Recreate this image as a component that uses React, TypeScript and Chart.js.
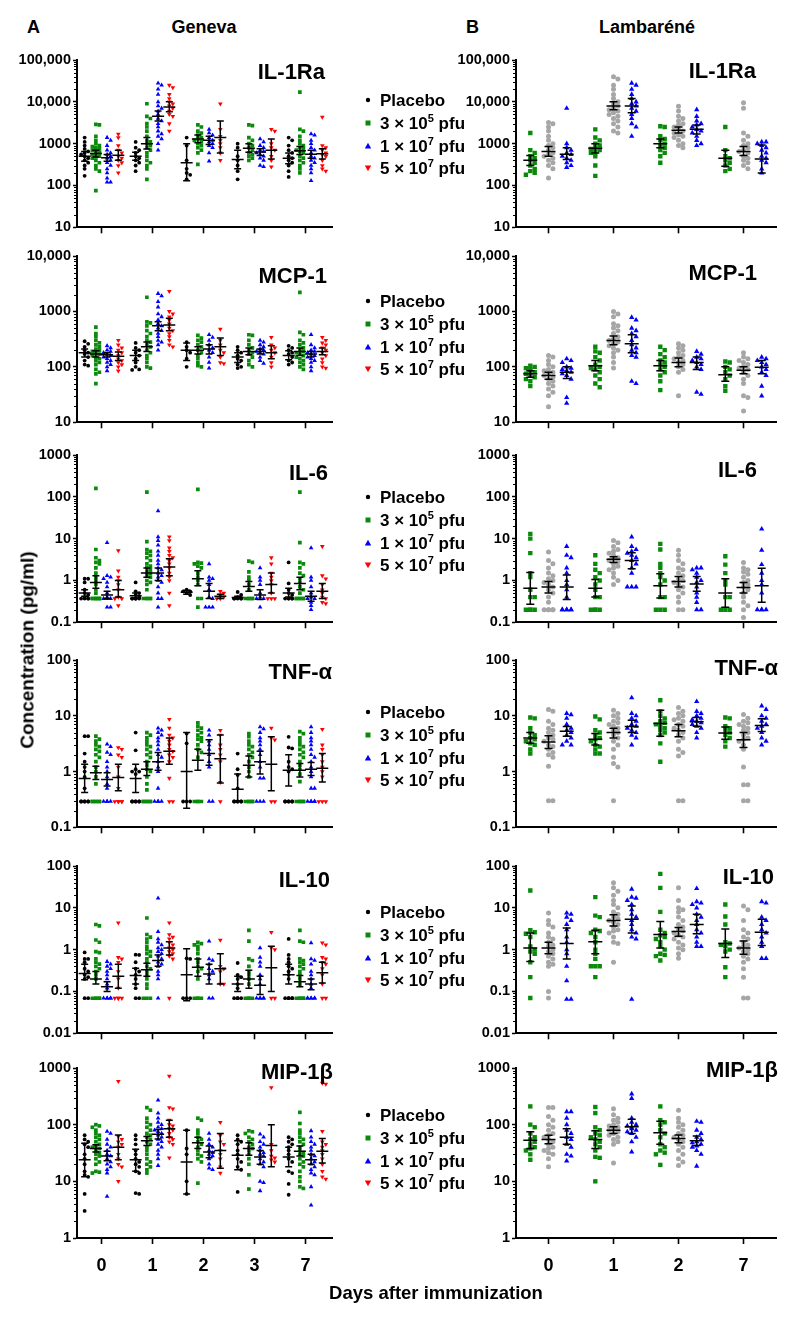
import React, { useEffect, useRef } from 'react';
import { Chart, registerables } from 'chart.js';

Chart.register(...registerables);

const FONT = "'Liberation Sans', Arial, Helvetica, sans-serif";

// ---------------- categories / labels ----------------
const genevaDays = ['0', '1', '2', '3', '7'];
const lambareneDays = ['0', '1', '2', '7'];
const cytokines = ['IL-1Ra', 'MCP-1', 'IL-6', 'TNF-α', 'IL-10', 'MIP-1β'];
const legendLead = ['Placebo', '3 × 10', '1 × 10', '5 × 10'];
const legendExp = ['', '5', '7', '7'];
const yRanges = [[10, 100000], [10, 10000], [0.1, 1000], [0.1, 100], [0.01, 100], [1, 1000]];

// ---------------- IL-1Ra ----------------
const il1raGenPlacebo = [
  [1400, 1100, 900, 750, 650, 600, 550, 500, 450, 400, 350, 300, 250, 170],
  [1100, 800, 700, 600, 500, 450, 400, 350, 300, 220],
  [1400, 900, 400, 250, 200, 180, 140],
  [1000, 800, 500, 400, 300, 220, 140],
  [1400, 1200, 900, 700, 600, 500, 450, 400, 350, 300, 220, 160],
];
const il1raGen3e5 = [
  [2900, 2800, 1500, 1200, 1000, 900, 850, 800, 750, 700, 680, 650, 620, 600, 550, 520, 500, 480, 450, 400, 350, 300, 250, 220, 75],
  [9000, 4500, 4000, 3000, 2500, 2000, 1500, 1200, 1100, 1000, 900, 800, 700, 600, 500, 400, 350, 300, 250, 140],
  [2800, 2500, 2000, 1800, 1600, 1400, 1300, 1200, 1100, 1000, 900, 800, 700, 600, 320],
  [2800, 2700, 1400, 1200, 1000, 900, 800, 700, 600, 550, 500, 450, 400],
  [17000, 2200, 2000, 1500, 1200, 1000, 900, 800, 750, 700, 650, 600, 500, 450, 400, 350, 300, 250, 200],
];
const il1raGen1e7 = [
  [1400, 1200, 900, 700, 600, 550, 500, 450, 400, 350, 300, 250, 200, 150, 120, 120],
  [28000, 25000, 20000, 15000, 10000, 8000, 7000, 6000, 5000, 4000, 3500, 3000, 2500, 2000, 1700, 1500, 1300, 1000, 700],
  [2200, 1800, 1600, 1400, 1200, 1100, 1000, 900, 800, 600, 380],
  [1300, 1100, 900, 800, 700, 650, 600, 550, 500, 450, 400, 300, 280],
  [1700, 1600, 1200, 1000, 800, 700, 600, 500, 450, 400, 350, 300, 250, 200, 130],
];
const il1raGen5e7 = [
  [1700, 1400, 900, 700, 600, 500, 450, 400, 350, 300, 200],
  [25000, 22000, 15000, 12000, 10000, 9000, 8000, 7000, 6000, 5000, 4500, 3000, 2000],
  [9000, 2200, 1500, 1200, 1000, 800, 600, 400],
  [2200, 2000, 1000, 800, 700, 500, 400, 280],
  [4300, 900, 800, 700, 600, 550, 500, 400, 300, 250, 220],
];
const il1raGenBars = [
  [[500, 380, 650], [500, 400, 620], [350, 130, 1000], [420, 250, 700], [450, 330, 600]],
  [[580, 480, 700], [1000, 750, 1400], [1300, 1050, 1600], [780, 620, 1000], [680, 550, 850]],
  [[460, 380, 550], [4500, 3500, 6000], [1200, 950, 1500], [630, 520, 760], [560, 450, 700]],
  [[530, 400, 700], [7500, 5800, 10000], [1400, 600, 3500], [700, 430, 1300], [570, 430, 760]],
];
const il1raLamGreen = [
  [1800, 700, 600, 500, 450, 400, 350, 300, 250, 220, 200, 180],
  [2200, 1400, 1200, 1000, 900, 800, 750, 700, 650, 600, 500, 300, 170],
  [2600, 2500, 1500, 1300, 1200, 1000, 900, 800, 700, 600, 500, 350],
  [2500, 700, 500, 450, 400, 350, 300, 250, 220],
];
const il1raLamGray = [
  [3200, 3000, 2500, 2000, 1500, 1200, 1000, 900, 800, 700, 600, 550, 500, 450, 400, 350, 300, 250, 150],
  [40000, 35000, 25000, 20000, 15000, 12000, 10000, 9000, 8000, 7000, 6500, 6000, 5500, 5000, 4500, 4000, 3500, 3000, 2500, 2000, 1800],
  [7800, 6000, 4500, 4000, 3500, 3000, 2800, 2500, 2200, 2000, 1800, 1600, 1500, 1400, 1200, 1000, 900, 800],
  [9500, 7000, 1800, 1500, 1200, 1000, 900, 800, 700, 650, 600, 500, 450, 400, 350, 300, 250],
];
const il1raLamBlue = [
  [7000, 1000, 800, 700, 600, 550, 500, 450, 400, 350, 300, 270],
  [28000, 25000, 20000, 15000, 12000, 10000, 9000, 8000, 7000, 6000, 5000, 4000, 3000, 2500, 1500],
  [6500, 4500, 3500, 3000, 2800, 2500, 2200, 2000, 1800, 1500, 1200, 1000, 900],
  [1100, 1100, 1000, 900, 800, 700, 600, 500, 450, 400, 350, 250, 200],
];
const il1raLamBars = [
  [[400, 300, 520], [780, 600, 1000], [1000, 800, 1300], [450, 290, 700]],
  [[650, 500, 850], [8000, 6500, 10000], [2100, 1800, 2500], [650, 520, 850]],
  [[560, 420, 800], [8000, 5500, 12000], [2200, 1700, 2800], [430, 200, 930]],
];

// ---------------- MCP-1 ----------------
const mcp1GenPlacebo = [
  [290, 260, 230, 200, 180, 170, 150, 130, 110, 105],
  [270, 220, 200, 180, 160, 140, 120, 100, 90, 88],
  [280, 230, 200, 180, 140, 100],
  [230, 200, 180, 160, 140, 130, 110, 100, 95],
  [240, 220, 200, 180, 170, 150, 130, 120, 110],
];
const mcp1Gen3e5 = [
  [520, 400, 350, 300, 270, 250, 230, 210, 200, 190, 180, 170, 160, 150, 140, 130, 120, 110, 90, 80, 75, 50],
  [1800, 650, 620, 550, 450, 400, 350, 300, 280, 250, 230, 200, 180, 160, 140, 120, 100, 95],
  [370, 330, 300, 280, 250, 230, 200, 180, 160, 140, 120, 105, 100],
  [380, 370, 300, 250, 220, 200, 180, 170, 150, 130, 110, 100],
  [2200, 420, 380, 300, 270, 250, 220, 200, 190, 180, 170, 160, 150, 140, 130, 120, 110, 100, 90],
];
const mcp1Gen1e7 = [
  [240, 220, 200, 190, 180, 170, 160, 150, 140, 130, 120, 110, 100, 85],
  [2100, 1900, 1500, 1200, 900, 800, 700, 600, 550, 500, 450, 400, 350, 300, 280, 250, 200],
  [380, 340, 300, 250, 220, 200, 180, 150, 120, 95],
  [300, 280, 250, 230, 210, 200, 190, 180, 170, 150, 130, 115],
  [380, 250, 220, 200, 190, 180, 170, 160, 150, 140, 130, 120, 100, 85],
];
const mcp1Gen5e7 = [
  [300, 250, 220, 200, 180, 160, 140, 130, 120, 110, 100, 85],
  [2300, 1000, 900, 800, 700, 600, 500, 450, 400, 350, 300, 250, 230],
  [480, 300, 250, 200, 180, 150, 120, 115],
  [340, 250, 220, 200, 180, 150, 120, 100],
  [340, 300, 270, 250, 220, 200, 180, 160, 140, 120, 100, 95],
];
const mcp1GenBars = [
  [[180, 150, 210], [160, 130, 200], [200, 130, 270], [150, 120, 180], [160, 135, 195]],
  [[170, 150, 195], [230, 190, 280], [200, 170, 230], [190, 165, 220], [190, 160, 220]],
  [[165, 150, 180], [550, 450, 650], [210, 170, 250], [190, 170, 210], [170, 150, 190]],
  [[155, 130, 185], [570, 450, 750], [230, 160, 330], [180, 140, 240], [190, 165, 220]],
];
const mcp1LamGreen = [
  [105, 100, 95, 90, 85, 80, 75, 70, 65, 60, 55, 45],
  [230, 190, 180, 150, 130, 110, 100, 95, 90, 80, 70, 60, 50, 43],
  [230, 200, 170, 150, 130, 120, 110, 100, 90, 80, 70, 55, 38],
  [125, 120, 100, 90, 80, 70, 60, 45, 37],
];
const mcp1LamGray = [
  [160, 150, 130, 110, 100, 90, 85, 80, 75, 70, 65, 60, 55, 50, 45, 40, 35, 30, 19],
  [1000, 900, 800, 600, 550, 500, 450, 400, 350, 320, 300, 280, 260, 240, 220, 200, 180, 150, 120, 95],
  [260, 240, 220, 200, 180, 160, 150, 140, 130, 120, 110, 100, 90, 80, 30],
  [180, 150, 140, 130, 120, 110, 100, 95, 90, 80, 70, 60, 50, 30, 28, 16],
];
const mcp1LamBlue = [
  [140, 130, 120, 100, 95, 90, 85, 80, 75, 70, 60, 28, 22],
  [780, 700, 500, 450, 400, 350, 300, 250, 220, 200, 180, 160, 150, 55, 50],
  [190, 170, 150, 140, 130, 120, 110, 100, 90, 35, 32],
  [150, 140, 130, 120, 110, 100, 90, 80, 70, 45, 30],
];
const mcp1LamBars = [
  [[75, 65, 85], [105, 85, 130], [105, 85, 130], [72, 55, 100]],
  [[70, 60, 80], [300, 250, 360], [120, 100, 145], [87, 75, 100]],
  [[80, 62, 100], [260, 180, 380], [120, 90, 150], [98, 75, 130]],
];

// ---------------- IL-6 ----------------
const il6GenPlacebo = [
  [1.1, 1.1, 0.9, 0.6, 0.5, 0.45, 0.4, 0.37, 0.37, 0.37, 0.37],
  [0.9, 0.55, 0.5, 0.45, 0.4, 0.37, 0.37, 0.37, 0.37, 0.37, 0.37],
  [0.6, 0.55, 0.55, 0.5, 0.45],
  [0.53, 0.45, 0.4, 0.37, 0.37, 0.37, 0.37, 0.37],
  [2.7, 0.85, 0.6, 0.5, 0.45, 0.37, 0.37, 0.37, 0.37, 0.37],
];
const il6Gen3e5 = [
  [160, 5.5, 3.5, 3, 2.7, 2.5, 2, 1.5, 1.2, 1, 0.8, 0.6, 0.5, 0.37, 0.37, 0.37, 0.37, 0.37, 0.37, 0.37, 0.37],
  [130, 8.5, 5.5, 5, 4.5, 4, 3.5, 3, 2.5, 2.2, 2, 1.8, 1.6, 1.5, 1.3, 1.2, 1, 0.9, 0.8, 0.6, 0.37, 0.37, 0.37, 0.37, 0.37],
  [150, 2.7, 2.6, 2.5, 2.2, 2, 1.5, 1.2, 1, 0.8, 0.37, 0.37, 0.23],
  [2.9, 2.7, 1.6, 1.2, 1, 0.8, 0.6, 0.37, 0.37, 0.37, 0.37, 0.37],
  [130, 8, 2.7, 2.5, 2, 1.5, 1.3, 1.1, 0.9, 0.7, 0.6, 0.5, 0.37, 0.37, 0.37, 0.37, 0.37, 0.37],
];
const il6Gen1e7 = [
  [8, 1.3, 1.2, 1.1, 0.9, 0.7, 0.5, 0.4, 0.37, 0.37, 0.37, 0.23, 0.23],
  [46, 11, 9, 7, 5, 4, 3, 2.5, 2, 1.8, 1.5, 1.3, 1.2, 1, 0.9, 0.7, 0.5, 0.37, 0.37, 0.23],
  [2.5, 1.2, 1.1, 1, 0.8, 0.6, 0.4, 0.37, 0.23, 0.23, 0.23],
  [2, 1.2, 1, 0.8, 0.5, 0.4, 0.37, 0.37, 0.23],
  [6, 1.2, 1, 0.7, 0.5, 0.4, 0.37, 0.37, 0.3, 0.25, 0.2],
];
const il6Gen5e7 = [
  [5.2, 1.7, 1.2, 1, 0.8, 0.6, 0.4, 0.37, 0.37, 0.25],
  [11, 9, 6, 5, 4, 3.5, 3, 2.5, 2, 1.5, 1.2, 1, 0.5, 0.25],
  [0.55, 0.5, 0.45, 0.4, 0.37, 0.37],
  [3.5, 2.5, 1.5, 1.2, 1, 0.8, 0.5, 0.37, 0.37, 0.37],
  [6.5, 1.3, 1.1, 0.8, 0.6, 0.5, 0.4, 0.37, 0.3, 0.28],
];
const il6GenBars = [
  [[0.5, 0.42, 0.6], [0.43, 0.38, 0.5], [0.52, 0.47, 0.58], [0.39, 0.37, 0.42], [0.5, 0.4, 0.65]],
  [[0.9, 0.65, 1.3], [1.5, 1.2, 2.0], [1.1, 0.75, 1.7], [0.72, 0.55, 0.95], [0.85, 0.6, 1.2]],
  [[0.45, 0.37, 0.55], [1.5, 1.0, 2.0], [0.55, 0.37, 0.85], [0.45, 0.35, 0.6], [0.42, 0.32, 0.55]],
  [[0.6, 0.4, 1.0], [2.1, 1.3, 3.3], [0.42, 0.37, 0.47], [0.8, 0.5, 1.5], [0.55, 0.37, 0.85]],
];
const il6LamGreen = [
  [13, 10, 4.5, 1.5, 1.2, 0.6, 0.4, 0.4, 0.2, 0.2, 0.2, 0.2],
  [4, 2.5, 1.8, 1.5, 1.2, 1, 0.8, 0.6, 0.4, 0.4, 0.2, 0.2, 0.2, 0.2],
  [7.5, 5.5, 2.5, 2, 1.5, 1.2, 1, 0.8, 0.4, 0.4, 0.2, 0.2, 0.2],
  [3.8, 2.4, 1.5, 1, 0.8, 0.4, 0.4, 0.2, 0.2, 0.2],
];
const il6LamGray = [
  [4.8, 3, 2.5, 2, 1.5, 1.3, 1.1, 1, 0.9, 0.8, 0.7, 0.6, 0.5, 0.4, 0.3, 0.2, 0.2, 0.2, 0.2, 0.2],
  [9, 8, 6.5, 5.5, 5, 4.5, 4, 3.5, 3.2, 3, 2.8, 2.5, 2.2, 2, 1.8, 1.5, 1.2, 1, 0.8],
  [5.3, 4, 3, 2.5, 2, 1.8, 1.5, 1.3, 1.1, 1, 0.9, 0.8, 0.7, 0.6, 0.5, 0.4, 0.3, 0.2, 0.2],
  [2.7, 2, 1.8, 1.6, 1.4, 1.2, 1, 0.9, 0.8, 0.7, 0.6, 0.5, 0.4, 0.3, 0.25, 0.2, 0.13],
];
const il6LamBlue = [
  [6.5, 4, 3.5, 2, 1.5, 1, 0.8, 0.6, 0.4, 0.2, 0.2, 0.2, 0.2, 0.2, 0.2],
  [11, 6.5, 5.5, 5, 4.5, 4, 3.5, 3, 2.5, 2, 1.5, 0.7, 0.7, 0.7],
  [2, 2, 1.8, 1.5, 1.2, 1, 0.9, 0.7, 0.5, 0.4, 0.3, 0.2, 0.2],
  [17, 5.3, 2.4, 1.5, 1, 0.8, 0.5, 0.2, 0.2, 0.2, 0.2],
];
const il6LamBars = [
  [[0.65, 0.27, 1.55], [0.65, 0.4, 1.05], [0.75, 0.38, 1.45], [0.5, 0.23, 1.1]],
  [[0.7, 0.5, 0.95], [3.2, 2.7, 3.7], [0.95, 0.7, 1.25], [0.68, 0.5, 0.9]],
  [[0.7, 0.35, 1.35], [3, 1.9, 4.6], [0.82, 0.55, 1.25], [0.75, 0.3, 1.95]],
];

// ---------------- TNF-alpha ----------------
const tnfGenPlacebo = [
  [4.3, 4.3, 2.1, 1.5, 1.2, 1, 0.8, 0.5, 0.29, 0.29, 0.29, 0.29, 0.29, 0.29],
  [5, 2.4, 1.1, 1, 1, 0.9, 0.29, 0.29, 0.29, 0.29, 0.29, 0.29],
  [4.8, 3.2, 0.29, 0.29, 0.29],
  [2.1, 1.1, 0.87, 0.5, 0.29, 0.29, 0.29, 0.29, 0.29, 0.29],
  [4.2, 2.7, 2.6, 1.5, 1.2, 1.1, 1, 0.29, 0.29, 0.29, 0.29, 0.29, 0.29],
];
const tnfGen3e5 = [
  [4.3, 3.8, 3.5, 3, 2.8, 2.5, 2.3, 2, 1.8, 1.5, 1.2, 1, 0.8, 0.6, 0.29, 0.29, 0.29, 0.29, 0.29, 0.29],
  [5, 4.5, 4, 3.5, 3, 2.8, 2.5, 2.2, 2, 1.8, 1.5, 1.3, 1.1, 1, 0.8, 0.6, 0.47, 0.29, 0.29, 0.29, 0.29, 0.29, 0.29],
  [7.5, 6.5, 6, 5.5, 5, 4.5, 4, 3.8, 3.5, 3, 2.5, 2.2, 1.8, 0.29, 0.29, 0.29, 0.29],
  [4.8, 4.2, 3.5, 3, 2.8, 2.5, 2.2, 2, 1.8, 1.5, 1.2, 1, 0.8, 0.29, 0.29, 0.29, 0.29, 0.29],
  [5.2, 4.8, 4, 3.5, 3, 2.8, 2.5, 2.2, 2, 1.8, 1.5, 1.3, 1.1, 0.9, 0.66, 0.29, 0.29, 0.29, 0.29, 0.29],
];
const tnfGen1e7 = [
  [3.1, 2.8, 2.2, 2, 1.5, 1.2, 1, 0.8, 0.6, 0.5, 0.29, 0.29, 0.29, 0.29],
  [6, 5.5, 5, 4.5, 4, 3.5, 3, 2.5, 2, 1.8, 1.5, 1.2, 1, 0.5, 0.29, 0.29, 0.29, 0.29],
  [5.5, 4.5, 3.5, 3, 2.5, 2, 1.5, 1.2, 0.29, 0.29],
  [6.3, 5.8, 5, 4, 3.5, 3, 2.5, 2, 1.5, 1.2, 0.76, 0.76, 0.29, 0.29, 0.29],
  [6.3, 5, 4, 3.5, 3, 2.5, 2, 1.8, 1.5, 1.2, 1, 0.8, 0.5, 0.5, 0.29, 0.29, 0.29, 0.29, 0.29],
];
const tnfGen5e7 = [
  [2.7, 2.5, 2, 1.8, 1.2, 0.8, 0.5, 0.29, 0.29, 0.29, 0.29, 0.29],
  [8.6, 6, 4.5, 4, 3.5, 3, 2.5, 2.3, 2, 1.8, 1.5, 0.76, 0.29, 0.29],
  [5.5, 4.5, 3, 2.5, 2, 1.5, 0.64, 0.29],
  [6, 4, 3.7, 0.29, 0.29],
  [5.7, 3, 2.5, 2, 1.5, 1.2, 1, 0.8, 0.29, 0.29, 0.29],
];
const tnfGenBars = [
  [[0.75, 0.42, 1.35], [0.75, 0.42, 1.35], [1.0, 0.22, 5.0], [0.48, 0.3, 0.9], [1.05, 0.55, 2.0]],
  [[0.95, 0.72, 1.25], [1.1, 0.85, 1.5], [1.6, 1.05, 2.5], [1.3, 0.8, 1.9], [1.05, 0.8, 1.4]],
  [[0.72, 0.55, 0.95], [1.5, 1.05, 2.2], [2.1, 1.3, 3.7], [1.5, 0.9, 2.3], [1.1, 0.85, 1.45]],
  [[0.78, 0.45, 1.35], [2.3, 1.35, 4.0], [1.7, 0.62, 4.5], [1.35, 0.45, 4.2], [1.15, 0.65, 2.1]],
];
const tnfLamGreen = [
  [9.3, 9, 6, 5, 4.5, 4, 3.8, 3.5, 3.2, 3, 2.5, 2.1],
  [9.7, 8.6, 5.5, 5, 4.5, 4, 3.8, 3.5, 3, 2.8, 2.5, 2.1, 2.1],
  [19, 12, 10, 9, 8, 7.5, 7, 6.5, 6, 5.5, 5, 4.5, 3.2, 1.5],
  [9.3, 9, 6.5, 6, 5.5, 5, 4.5, 4, 3.5, 2.8],
];
const tnfLamGray = [
  [13, 12, 8, 7, 6, 5.5, 5, 4.5, 4, 3.8, 3.5, 3, 2.8, 2.5, 2.2, 2, 1.8, 1.25, 0.3, 0.3],
  [12.5, 11, 10, 9, 8, 7.5, 7, 6.5, 6, 5.5, 5, 4.5, 4, 3.5, 3, 2.5, 1.8, 1.4, 1.2, 0.3],
  [14, 12, 11, 10, 9, 8.5, 8, 7, 6.5, 6, 5.5, 5, 4.5, 4, 3.5, 2.5, 2.2, 1.9, 0.3, 0.3],
  [10.5, 9, 8, 7.5, 7, 6.5, 6, 5.5, 5, 4.5, 4, 3.8, 3.5, 3, 2.5, 1.2, 0.58, 0.58, 0.3, 0.3],
];
const tnfLamBlue = [
  [11, 10.5, 9, 7, 6, 5.5, 5, 4.5, 4, 3.5, 3, 3],
  [21, 11, 10, 9, 8, 7, 6.5, 6, 5.5, 5, 4.5, 4, 3],
  [18, 12, 11, 10, 9, 8.5, 8, 7.5, 7, 6.5, 6, 5, 4],
  [15, 13, 10, 9, 8, 7, 6.5, 6, 5, 4, 3.5, 3],
];
const tnfLamBars = [
  [[4, 3.2, 5], [3.8, 3, 4.8], [7.3, 4.3, 12.5], [4.9, 3.8, 6.3]],
  [[3.4, 2.6, 4.4], [5, 4, 6], [5.4, 4.2, 7], [3.7, 2.7, 5]],
  [[5.3, 4.3, 6.4], [6.4, 5, 8.3], [7.8, 6.5, 9.3], [6.7, 5.2, 8.8]],
];

// ---------------- IL-10 ----------------
const il10GenPlacebo = [
  [0.86, 0.6, 0.6, 0.5, 0.35, 0.3, 0.25, 0.22, 0.2, 0.069, 0.069],
  [0.76, 0.75, 0.5, 0.35, 0.3, 0.25, 0.2, 0.15, 0.12, 0.069, 0.069],
  [0.62, 0.6, 0.069, 0.069, 0.069],
  [0.48, 0.25, 0.22, 0.2, 0.15, 0.12, 0.069, 0.069, 0.069, 0.069],
  [1.8, 0.75, 0.6, 0.5, 0.4, 0.35, 0.3, 0.25, 0.2, 0.069, 0.069, 0.069, 0.069, 0.069],
];
const il10Gen3e5 = [
  [4, 3.7, 1.7, 1.5, 0.9, 0.85, 0.6, 0.5, 0.45, 0.4, 0.35, 0.3, 0.25, 0.2, 0.069, 0.069, 0.069, 0.069, 0.069],
  [5.7, 2.3, 2, 1.8, 1.5, 1.2, 1, 0.9, 0.8, 0.7, 0.6, 0.5, 0.4, 0.35, 0.3, 0.25, 0.2, 0.15, 0.12, 0.069, 0.069, 0.069],
  [1.5, 1.4, 1.3, 1.2, 1, 0.8, 0.6, 0.5, 0.4, 0.35, 0.3, 0.2, 0.069, 0.069, 0.069, 0.069],
  [2.9, 1.6, 0.6, 0.55, 0.4, 0.3, 0.25, 0.2, 0.15, 0.069, 0.069, 0.069, 0.069],
  [2.9, 1.6, 1.5, 0.6, 0.55, 0.5, 0.45, 0.4, 0.35, 0.3, 0.25, 0.2, 0.15, 0.069, 0.069, 0.069, 0.069, 0.069],
];
const il10Gen1e7 = [
  [0.52, 0.45, 0.4, 0.35, 0.3, 0.25, 0.2, 0.15, 0.12, 0.069, 0.069, 0.069, 0.069, 0.069],
  [17, 2.7, 1.8, 1.5, 1.3, 1.1, 1, 0.9, 0.8, 0.7, 0.6, 0.5, 0.45, 0.4, 0.3, 0.25, 0.2, 0.069],
  [1.6, 0.6, 0.55, 0.45, 0.35, 0.3, 0.25, 0.2, 0.069, 0.069],
  [1.1, 0.65, 0.5, 0.4, 0.25, 0.2, 0.15, 0.069, 0.069, 0.069, 0.069, 0.069],
  [1.45, 0.6, 0.55, 0.45, 0.3, 0.25, 0.2, 0.15, 0.12, 0.069, 0.069, 0.069, 0.069, 0.069, 0.069],
];
const il10Gen5e7 = [
  [4.4, 0.65, 0.6, 0.5, 0.3, 0.2, 0.12, 0.069, 0.069, 0.069, 0.069],
  [4.4, 2.3, 2, 1.8, 1.5, 1.3, 1.1, 1, 0.9, 0.8, 0.7, 0.6, 0.069],
  [1.7, 0.4, 0.35, 0.3, 0.15, 0.15],
  [2.6, 1.1, 1, 0.069, 0.069],
  [1.45, 1.3, 0.65, 0.6, 0.5, 0.45, 0.35, 0.25, 0.15, 0.069, 0.069],
];
const il10GenBars = [
  [[0.27, 0.19, 0.45], [0.24, 0.15, 0.36], [0.25, 0.06, 1.05], [0.15, 0.1, 0.23], [0.25, 0.15, 0.45]],
  [[0.2, 0.15, 0.3], [0.33, 0.23, 0.47], [0.38, 0.23, 0.6], [0.2, 0.12, 0.32], [0.17, 0.13, 0.24]],
  [[0.13, 0.1, 0.17], [0.55, 0.4, 0.75], [0.26, 0.15, 0.45], [0.14, 0.085, 0.23], [0.15, 0.11, 0.2]],
  [[0.23, 0.12, 0.45], [1.1, 0.75, 1.55], [0.35, 0.15, 0.8], [0.37, 0.1, 1.2], [0.28, 0.16, 0.5]],
];
const il10LamGreen = [
  [26, 2.9, 2.6, 2.4, 2, 1.2, 1, 0.9, 0.8, 0.5, 0.22, 0.07],
  [18, 6.5, 6, 3, 2.8, 2.5, 2, 1.5, 1, 0.8, 0.6, 0.4, 0.4, 0.4, 0.22],
  [65, 30, 8, 3, 2.5, 2.2, 2, 1.8, 1.5, 1.2, 1, 0.8, 0.75, 0.7, 0.55],
  [12, 6.2, 4, 1.5, 1.4, 1.3, 1.2, 1, 0.9, 0.38, 0.22],
];
const il10LamGray = [
  [7.5, 5, 4, 3.5, 2.5, 2, 1.8, 1.5, 1.3, 1.2, 1, 0.9, 0.8, 0.7, 0.6, 0.5, 0.45, 0.4, 0.1, 0.07],
  [40, 30, 25, 20, 15, 12, 10, 8, 7, 6, 5.5, 5, 4.5, 4, 3.5, 3, 2.8, 2.5, 2, 1.5, 1.4, 0.5],
  [30, 15, 10, 9, 8, 6, 5, 4, 3.5, 3, 2.8, 2.5, 2.2, 2, 1.8, 1.5, 1.3, 1.1, 1, 0.8, 0.62],
  [11, 9, 5, 3, 2.5, 2, 1.8, 1.5, 1.3, 1.2, 1.1, 1, 0.9, 0.8, 0.7, 0.6, 0.5, 0.35, 0.22, 0.07, 0.07],
];
const il10LamBlue = [
  [7.5, 7, 6, 5, 4, 3, 2, 1.5, 1, 0.8, 0.4, 0.18, 0.065, 0.065],
  [28, 18, 17, 15, 12, 9, 7, 6, 5, 4, 3, 2.5, 2, 1.8, 0.065],
  [29, 14, 13, 12, 10, 7, 6, 5, 4, 3, 2.5, 2, 1.5, 1.2, 1.2],
  [14, 13, 6, 5, 4, 3, 2.5, 2, 1.5, 1.2, 0.62, 0.62],
];
const il10LamBars = [
  [[1.1, 0.52, 2.5], [1.55, 0.8, 2.9], [2.3, 1.1, 4.7], [1.4, 0.65, 3.1]],
  [[1.1, 0.8, 1.5], [5, 3.7, 6.8], [2.7, 2.1, 3.4], [1.1, 0.78, 1.6]],
  [[1.4, 0.6, 3.3], [5.3, 2.5, 11], [4, 2.4, 7], [2.6, 1.25, 5.3]],
];

// ---------------- MIP-1beta ----------------
const mipGenPlacebo = [
  [65, 55, 50, 45, 40, 30, 25, 20, 15, 13, 12, 6, 3],
  [65, 55, 45, 35, 30, 25, 22, 20, 18, 15, 14, 6.2, 6],
  [80, 38, 30, 10, 6],
  [65, 55, 50, 45, 35, 30, 25, 22, 18, 16, 6.5],
  [60, 55, 50, 45, 40, 35, 30, 25, 22, 15, 14, 9, 5.8],
];
const mipGen3e5 = [
  [100, 95, 90, 80, 70, 65, 60, 55, 50, 45, 42, 40, 38, 35, 32, 30, 28, 25, 22, 20, 15, 14.5, 14],
  [200, 180, 130, 110, 100, 90, 80, 70, 65, 60, 55, 50, 45, 40, 35, 30, 25, 22, 20, 18, 16, 14],
  [130, 120, 80, 70, 60, 55, 50, 45, 40, 35, 30, 28, 25, 22, 9.3],
  [78, 75, 70, 60, 55, 50, 45, 40, 38, 35, 30, 25, 20, 13, 7.3],
  [165, 105, 80, 70, 60, 55, 50, 45, 40, 35, 32, 30, 28, 25, 22, 20, 18, 15, 12, 10, 8, 7.5],
];
const mipGen1e7 = [
  [76, 70, 55, 45, 40, 35, 30, 28, 25, 22, 20, 18, 16, 14, 5.4],
  [270, 160, 130, 110, 100, 90, 85, 80, 75, 70, 65, 60, 55, 50, 45, 40, 35, 30, 25, 19],
  [70, 55, 45, 40, 35, 32, 30, 28, 25, 20, 17, 16],
  [68, 60, 50, 45, 40, 35, 32, 30, 28, 25, 22, 20, 18, 10, 9.5, 6.8],
  [78, 60, 50, 45, 40, 35, 30, 28, 25, 22, 20, 18, 16, 14, 13, 8, 3.8],
];
const mipGen5e7 = [
  [580, 62, 55, 50, 45, 40, 30, 25, 20, 18, 10],
  [720, 200, 190, 120, 100, 95, 85, 80, 70, 60, 55, 50, 45, 26],
  [110, 65, 50, 45, 35, 30, 25, 18, 14],
  [450, 45, 35, 28, 26, 24, 22],
  [540, 520, 76, 50, 45, 40, 35, 30, 25, 20, 15, 12, 11],
];
const mipGenBars = [
  [[24, 12, 47], [24, 15, 37], [22, 6, 80], [29, 16, 52], [27, 18, 40]],
  [[38, 33, 44], [52, 43, 62], [48, 38, 60], [38, 29, 48], [34, 28, 42]],
  [[28, 23, 34], [68, 56, 82], [33, 26, 42], [27, 20, 35], [24, 20, 30]],
  [[40, 24, 66], [85, 60, 120], [35, 17, 70], [43, 18, 100], [34, 21, 57]],
];
const mipLamGreen = [
  [210, 100, 90, 70, 60, 55, 50, 45, 40, 38, 35, 30, 24],
  [205, 160, 90, 80, 70, 65, 60, 55, 50, 45, 40, 35, 27, 26, 10],
  [210, 120, 110, 100, 80, 70, 60, 45, 40, 35, 32, 30, 19.5],
];
const mipLamGray = [
  [200, 200, 140, 120, 100, 90, 80, 70, 65, 60, 55, 50, 45, 40, 38, 35, 32, 30, 25, 18],
  [190, 150, 130, 120, 110, 100, 95, 90, 85, 80, 75, 70, 65, 60, 55, 50, 45, 21],
  [180, 130, 110, 100, 90, 80, 70, 65, 60, 55, 50, 45, 40, 35, 30, 25, 22, 19],
];
const mipLamBlue = [
  [170, 170, 130, 100, 80, 70, 60, 55, 45, 40, 30, 28, 23],
  [350, 290, 130, 110, 100, 95, 90, 85, 80, 75, 70, 60, 50, 33],
  [115, 110, 80, 70, 60, 55, 50, 48, 45, 42, 40, 35, 30, 18.5],
];
const mipLamBars = [
  [[53, 38, 75], [55, 38, 78], [72, 45, 115]],
  [[55, 46, 65], [80, 70, 92], [57, 48, 66]],
  [[60, 45, 85], [92, 70, 125], [52, 43, 63]],
];

const genevaPanels = [
  { groups: [il1raGenPlacebo, il1raGen3e5, il1raGen1e7, il1raGen5e7], bars: il1raGenBars },
  { groups: [mcp1GenPlacebo, mcp1Gen3e5, mcp1Gen1e7, mcp1Gen5e7], bars: mcp1GenBars },
  { groups: [il6GenPlacebo, il6Gen3e5, il6Gen1e7, il6Gen5e7], bars: il6GenBars },
  { groups: [tnfGenPlacebo, tnfGen3e5, tnfGen1e7, tnfGen5e7], bars: tnfGenBars },
  { groups: [il10GenPlacebo, il10Gen3e5, il10Gen1e7, il10Gen5e7], bars: il10GenBars },
  { groups: [mipGenPlacebo, mipGen3e5, mipGen1e7, mipGen5e7], bars: mipGenBars },
];
const lambarenePanels = [
  { groups: [il1raLamGreen, il1raLamGray, il1raLamBlue], bars: il1raLamBars },
  { groups: [mcp1LamGreen, mcp1LamGray, mcp1LamBlue], bars: mcp1LamBars },
  { groups: [il6LamGreen, il6LamGray, il6LamBlue], bars: il6LamBars },
  { groups: [tnfLamGreen, tnfLamGray, tnfLamBlue], bars: tnfLamBars },
  { groups: [il10LamGreen, il10LamGray, il10LamBlue], bars: il10LamBars },
  { groups: [mipLamGreen, mipLamGray, mipLamBlue], bars: mipLamBars },
];

// ---------------- styles & layout ----------------
const genevaStyles = [
  { color: '#000000', style: 'circle', r: 1.9, rot: 0 },
  { color: '#0a8a0a', style: 'rect', r: 2.6, rot: 0 },
  { color: '#0000ff', style: 'triangle', r: 2.7, rot: 0 },
  { color: '#ff0000', style: 'triangle', r: 2.7, rot: 180 },
];
const lambareneStyles = [
  { color: '#0a8a0a', style: 'rect', r: 3.1, rot: 0 },
  { color: '#a6a6a6', style: 'circle', r: 2.5, rot: 0 },
  { color: '#0000ff', style: 'triangle', r: 3.1, rot: 0 },
];

const ROW_TOP = [60, 256, 455, 660, 866, 1068];
const ROW_BOTTOM = [228, 423, 623, 828, 1034, 1238];
const PAD_TOP = 12;

const LEFT = {
  canvasLeft: 0, canvasW: 345, yW: 77, padR: 13, xMin: -0.48, xMax: 4.52,
  offsets: [-0.33, -0.11, 0.11, 0.33], spread: 5.8, dot: 3.2, meanHalf: 6, cap: 3.5,
};
const RIGHT = {
  canvasLeft: 440, canvasW: 346, yW: 76, padR: 10, xMin: -0.5, xMax: 3.5,
  offsets: [-0.28, 0, 0.28], spread: 8.5, dot: 4, meanHalf: 7, cap: 4,
};

const LEGEND_Y = [100, 301, 497, 712, 912, 1115];
const LABEL_POS_LEFT = [[325, 72], [327, 276], [328, 473], [332, 672], [330, 880], [333, 1072]];
const LABEL_POS_RIGHT = [[756, 71], [757, 273], [757, 470], [778, 668], [774, 877], [778, 1070]];

function pow10(e) {
  return Number('1e' + e);
}
function fmtTick(v) {
  if (v >= 10000) return Math.round(v).toLocaleString('en-US');
  return String(v);
}

// beeswarm-like horizontal spreading (pixel offsets)
function swarm(vals, pxPerDecade, maxHalf, dot) {
  const order = vals.map((_, i) => i).sort((a, b) => vals[b] - vals[a]);
  const placed = [];
  const out = new Array(vals.length).fill(0);
  const step = dot * 0.55;
  const cands = [0];
  for (let k = 1; k < 40; k++) {
    const dx = Math.ceil(k / 2) * step * (k % 2 ? 1 : -1);
    if (Math.abs(dx) > maxHalf) break;
    cands.push(dx);
  }
  for (const i of order) {
    const y = Math.log10(vals[i]) * pxPerDecade;
    let best = 0;
    let bestC = Infinity;
    for (const dx of cands) {
      let c = 0;
      for (const p of placed) {
        if (Math.abs(p.y - y) < dot && Math.abs(p.x - dx) < dot) c++;
      }
      if (c < bestC) {
        bestC = c;
        best = dx;
        if (c === 0) break;
      }
    }
    placed.push({ x: best, y });
    out[i] = best;
  }
  return out;
}

const errBarPlugin = {
  id: 'errbars',
  afterDatasetsDraw(chart, _args, opts) {
    const { ctx, chartArea } = chart;
    const xs = chart.scales.x;
    const ys = chart.scales.y;
    ctx.save();
    ctx.strokeStyle = '#000';
    ctx.lineWidth = 1.5;
    ctx.beginPath();
    for (const b of opts.bars) {
      const px = xs.getPixelForValue(b.x);
      const pm = ys.getPixelForValue(b.m);
      const pl = ys.getPixelForValue(b.lo);
      const ph = ys.getPixelForValue(b.hi);
      ctx.moveTo(px, ph);
      ctx.lineTo(px, pl);
      ctx.moveTo(px - opts.cap, ph);
      ctx.lineTo(px + opts.cap, ph);
      ctx.moveTo(px - opts.cap, pl);
      ctx.lineTo(px + opts.cap, pl);
      ctx.moveTo(px - opts.half, pm);
      ctx.lineTo(px + opts.half, pm);
    }
    ctx.stroke();
    // minor log ticks
    ctx.lineWidth = 1;
    ctx.beginPath();
    const e0 = Math.round(Math.log10(opts.min));
    const e1 = Math.round(Math.log10(opts.max));
    for (let e = e0; e < e1; e++) {
      for (let k = 2; k <= 9; k++) {
        const py = Math.round(ys.getPixelForValue(k * pow10(e))) + 0.5;
        ctx.moveTo(chartArea.left - 3, py);
        ctx.lineTo(chartArea.left, py);
      }
    }
    ctx.stroke();
    ctx.restore();
  },
};

function Panel({ row, side }) {
  const ref = useRef(null);
  const isG = side === 'G';
  const lay = isG ? LEFT : RIGHT;
  const top = ROW_TOP[row];
  const bottom = ROW_BOTTOM[row];
  const bottomRow = row === 5;
  const xH = bottomRow ? 44 : 10;
  const height = bottom - top + PAD_TOP + xH;

  useEffect(() => {
    const panel = isG ? genevaPanels[row] : lambarenePanels[row];
    const styles = isG ? genevaStyles : lambareneStyles;
    const days = isG ? genevaDays : lambareneDays;
    const [yMin, yMax] = yRanges[row];
    const plotW = lay.canvasW - lay.yW - lay.padR;
    const pxPerUnit = plotW / (lay.xMax - lay.xMin);
    const decades = Math.log10(yMax) - Math.log10(yMin);
    const pxPerDecade = (bottom - top) / decades;

    const datasets = panel.groups.map((g, gi) => {
      const s = styles[gi];
      const data = [];
      g.forEach((vals, di) => {
        const dxs = swarm(vals, pxPerDecade, lay.spread, lay.dot);
        vals.forEach((v, k) => {
          data.push({ x: di + lay.offsets[gi] + dxs[k] / pxPerUnit, y: v });
        });
      });
      return {
        data,
        pointStyle: s.style,
        pointRadius: s.r,
        pointHoverRadius: s.r,
        pointRotation: s.rot,
        pointBackgroundColor: s.color,
        pointBorderColor: s.color,
        pointBorderWidth: 0,
        showLine: false,
      };
    });

    const bars = [];
    panel.bars.forEach((gb, gi) => {
      gb.forEach((t, di) => {
        bars.push({ x: di + lay.offsets[gi], m: t[0], lo: t[1], hi: t[2] });
      });
    });

    const majors = [];
    for (let e = Math.round(Math.log10(yMin)); e <= Math.round(Math.log10(yMax)); e++) majors.push(pow10(e));

    const chart = new Chart(ref.current, {
      type: 'scatter',
      data: { datasets },
      options: {
        animation: false,
        responsive: false,
        maintainAspectRatio: false,
        devicePixelRatio: 1,
        events: [],
        layout: { padding: { top: PAD_TOP, right: lay.padR, left: 0, bottom: 0 } },
        plugins: {
          legend: { display: false },
          tooltip: { enabled: false },
          errbars: { bars, cap: lay.cap, half: lay.meanHalf, min: yMin, max: yMax },
        },
        scales: {
          x: {
            type: 'linear',
            min: lay.xMin,
            max: lay.xMax,
            afterBuildTicks: (s) => {
              s.ticks = days.map((_, i) => ({ value: i }));
            },
            afterFit: (s) => {
              s.height = xH;
            },
            ticks: {
              display: true,
              autoSkip: false,
              maxRotation: 0,
              padding: 11,
              color: '#000',
              font: { family: FONT, size: 18, weight: 'bold' },
              callback: (v) => (bottomRow ? days[v] : ''),
            },
            grid: { display: true, drawOnChartArea: false, drawTicks: true, tickLength: 6, tickColor: '#000', tickWidth: 1.6 },
            border: { display: true, color: '#000', width: 2 },
          },
          y: {
            type: 'logarithmic',
            min: yMin,
            max: yMax,
            afterBuildTicks: (s) => {
              s.ticks = majors.map((v) => ({ value: v, major: true }));
            },
            afterFit: (s) => {
              s.width = lay.yW;
            },
            ticks: {
              padding: 2,
              color: '#000',
              font: { family: FONT, size: 14.5, weight: 'bold' },
              callback: (v) => fmtTick(v),
            },
            grid: { display: true, drawOnChartArea: false, drawTicks: true, tickLength: 4, tickColor: '#000', tickWidth: 1.5 },
            border: { display: true, color: '#000', width: 2 },
          },
        },
      },
      plugins: [errBarPlugin],
    });
    return () => chart.destroy();
  }, []);

  return (
    <canvas
      ref={ref}
      width={lay.canvasW}
      height={height}
      style={{ position: 'absolute', left: lay.canvasLeft, top: top - PAD_TOP, width: lay.canvasW, height }}
    />
  );
}

function Marker({ s }) {
  let shape;
  if (s.style === 'circle') shape = <circle cx={5} cy={5} r={2.2} fill={s.color} />;
  else if (s.style === 'rect') shape = <rect x={2.5} y={2.5} width={5} height={5} fill={s.color} />;
  else if (s.rot === 180) shape = <polygon points="1.8,2.6 8.2,2.6 5,8.2" fill={s.color} />;
  else shape = <polygon points="5,1.8 8.2,7.4 1.8,7.4" fill={s.color} />;
  return (
    <svg width={10} height={10} style={{ position: 'absolute', left: -5, top: -5 }}>
      {shape}
    </svg>
  );
}

const textBase = {
  position: 'absolute',
  fontFamily: FONT,
  fontWeight: 'bold',
  lineHeight: 1,
  whiteSpace: 'nowrap',
  color: '#000',
};

function Legend({ row }) {
  const y0 = LEGEND_Y[row];
  return (
    <>
      {legendLead.map((lead, i) => (
        <React.Fragment key={i}>
          <div style={{ position: 'absolute', left: 368, top: y0 + i * 22.8 }}>
            <Marker s={genevaStyles[i]} />
          </div>
          <div style={{ ...textBase, left: 380, top: y0 + i * 22.8, fontSize: 17, transform: 'translateY(-50%)' }}>
            {lead}
            {legendExp[i] ? (
              <>
                <span style={{ fontSize: 11, position: 'relative', top: -7 }}>{legendExp[i]}</span>
                {' pfu'}
              </>
            ) : null}
          </div>
        </React.Fragment>
      ))}
    </>
  );
}

export default function App() {
  return (
    <div style={{ position: 'absolute', left: 0, top: 0, width: 800, height: 1323, background: '#fff', overflow: 'hidden' }}>
      {cytokines.map((_, r) => (
        <React.Fragment key={r}>
          <Panel row={r} side="G" />
          <Panel row={r} side="L" />
        </React.Fragment>
      ))}
      {cytokines.map((name, r) => (
        <React.Fragment key={'t' + r}>
          <div style={{ ...textBase, fontSize: 22, right: 800 - LABEL_POS_LEFT[r][0], top: LABEL_POS_LEFT[r][1], transform: 'translateY(-50%)' }}>{name}</div>
          <div style={{ ...textBase, fontSize: 22, right: 800 - LABEL_POS_RIGHT[r][0], top: LABEL_POS_RIGHT[r][1], transform: 'translateY(-50%)' }}>{name}</div>
          <Legend row={r} />
        </React.Fragment>
      ))}
      <div style={{ ...textBase, fontSize: 18, left: 27, top: 27, transform: 'translateY(-50%)' }}>A</div>
      <div style={{ ...textBase, fontSize: 18, left: 204, top: 27, transform: 'translate(-50%, -50%)' }}>Geneva</div>
      <div style={{ ...textBase, fontSize: 18, left: 466, top: 27, transform: 'translateY(-50%)' }}>B</div>
      <div style={{ ...textBase, fontSize: 18, left: 647, top: 27, transform: 'translate(-50%, -50%)' }}>Lambaréné</div>
      <div style={{ ...textBase, fontSize: 19, left: 27, top: 650, transform: 'translate(-50%, -50%) rotate(-90deg)' }}>Concentration (pg/ml)</div>
      <div style={{ ...textBase, fontSize: 18.5, left: 436, top: 1293, transform: 'translate(-50%, -50%)' }}>Days after immunization</div>
    </div>
  );
}
